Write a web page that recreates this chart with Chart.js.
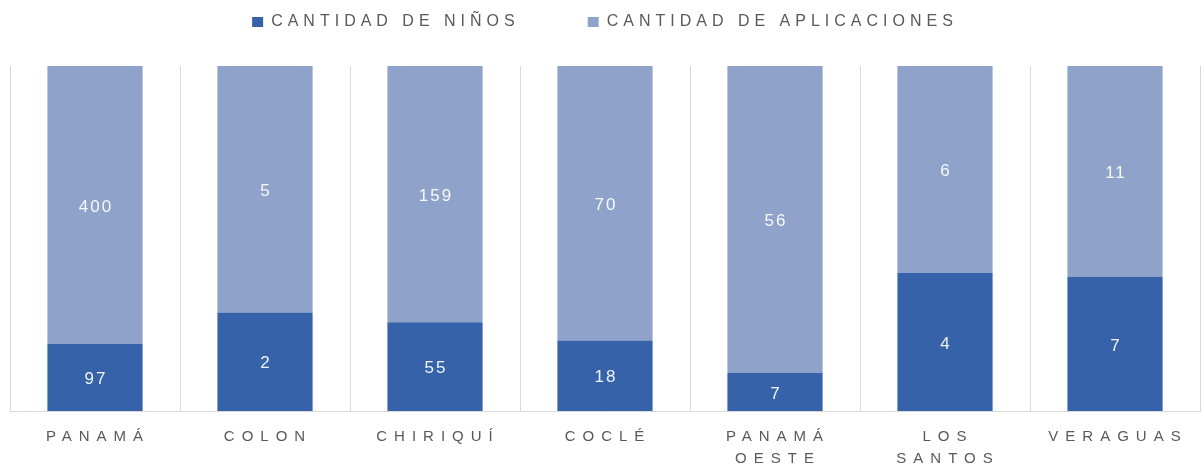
<!DOCTYPE html>
<html>
<head>
<meta charset="utf-8">
<script src="https://cdn.jsdelivr.net/npm/chart.js@4"></script>
<style>
  html, body { margin: 0; padding: 0; background: #fff; }
</style>
</head>
<body>
<canvas id="chart" width="1204" height="469"></canvas>
<script>
const provincias = ['PANAMÁ', 'COLON', 'CHIRIQUÍ', 'COCLÉ', ['PANAMÁ', 'OESTE'], ['LOS', 'SANTOS'], 'VERAGUAS'];
const ninos = [97, 2, 55, 18, 7, 4, 7];
const aplicaciones = [400, 5, 159, 70, 56, 6, 11];

// 100% apilado: cada barra es la parte del total de su provincia
const totales = ninos.map((v, i) => v + aplicaciones[i]);
const pctNinos = ninos.map((v, i) => v / totales[i] * 100);
const pctAplicaciones = aplicaciones.map((v, i) => v / totales[i] * 100);

const azulOscuro = '#3562a8';
const azulClaro = '#8fa3ca';
const gris = '#595959';
const fuente = '"Liberation Sans", Arial, sans-serif';

const espaciado = {
  id: 'espaciado',
  beforeLayout(chart) {
    const legend = chart.legend;
    if (legend && !legend._esp) {
      const fit = legend.fit;
      const draw = legend.draw;
      legend.fit = function () {
        const prev = this.ctx.letterSpacing;
        this.ctx.letterSpacing = '5px';
        fit.apply(this, arguments);
        this.ctx.letterSpacing = prev;
        this.height = 66;
      };
      // el padding grande separa los items; subimos la fila para compensarlo
      legend.draw = function () {
        const ctx = this.ctx;
        const prev = ctx.letterSpacing;
        const top = this.top;
        ctx.letterSpacing = '5px';
        this.top = top - 54;
        draw.apply(this, arguments);
        this.top = top;
        ctx.letterSpacing = prev;
      };
      legend._esp = true;
    }
    const x = chart.scales.x;
    if (x && !x._esp) {
      const drawLabels = x.drawLabels;
      x.drawLabels = function () {
        const prev = this.ctx.letterSpacing;
        this.ctx.letterSpacing = '7px';
        drawLabels.apply(this, arguments);
        this.ctx.letterSpacing = prev;
      };
      x._esp = true;
    }
  }
};

const etiquetas = {
  id: 'etiquetas',
  afterDatasetsDraw(chart) {
    const ctx = chart.ctx;
    ctx.save();
    ctx.font = '17px ' + fuente;
    ctx.letterSpacing = '2px';
    ctx.fillStyle = 'rgba(255,255,255,0.93)';
    ctx.textAlign = 'center';
    ctx.textBaseline = 'middle';
    chart.data.datasets.forEach((ds, i) => {
      chart.getDatasetMeta(i).data.forEach((bar, j) => {
        const { x, y, base } = bar.getProps(['x', 'y', 'base'], true);
        ctx.fillText(ds.cantidades[j], x + 1, (y + base) / 2 + 2);
      });
    });
    ctx.restore();
  }
};

new Chart(document.getElementById('chart'), {
  type: 'bar',
  data: {
    labels: provincias,
    datasets: [
      {
        label: 'CANTIDAD DE NIÑOS',
        data: pctNinos,
        cantidades: ninos,
        backgroundColor: azulOscuro
      },
      {
        label: 'CANTIDAD DE APLICACIONES',
        data: pctAplicaciones,
        cantidades: aplicaciones,
        backgroundColor: azulClaro
      }
    ]
  },
  options: {
    responsive: false,
    animation: false,
    layout: { padding: { left: 10, right: 4, top: 0, bottom: 0 } },
    datasets: {
      bar: { categoryPercentage: 1, barPercentage: 0.56 }
    },
    plugins: {
      legend: {
        position: 'top',
        labels: {
          boxWidth: 11,
          boxHeight: 10,
          padding: 68,
          color: gris,
          font: { family: fuente, size: 16 }
        }
      },
      tooltip: { enabled: false }
    },
    scales: {
      x: {
        stacked: true,
        afterFit(scale) { scale.height = 58; },
        grid: { display: true, color: '#d9d9d9', drawTicks: false, offset: true },
        border: { display: true, color: '#d9d9d9' },
        ticks: {
          color: gris,
          padding: 15,
          labelOffset: 3,
          maxRotation: 0,
          autoSkip: false,
          font: { family: fuente, size: 15, lineHeight: 1.45 }
        }
      },
      y: {
        stacked: true,
        display: false,
        min: 0,
        max: 100
      }
    }
  },
  plugins: [espaciado, etiquetas]
});
</script>
</body>
</html>
